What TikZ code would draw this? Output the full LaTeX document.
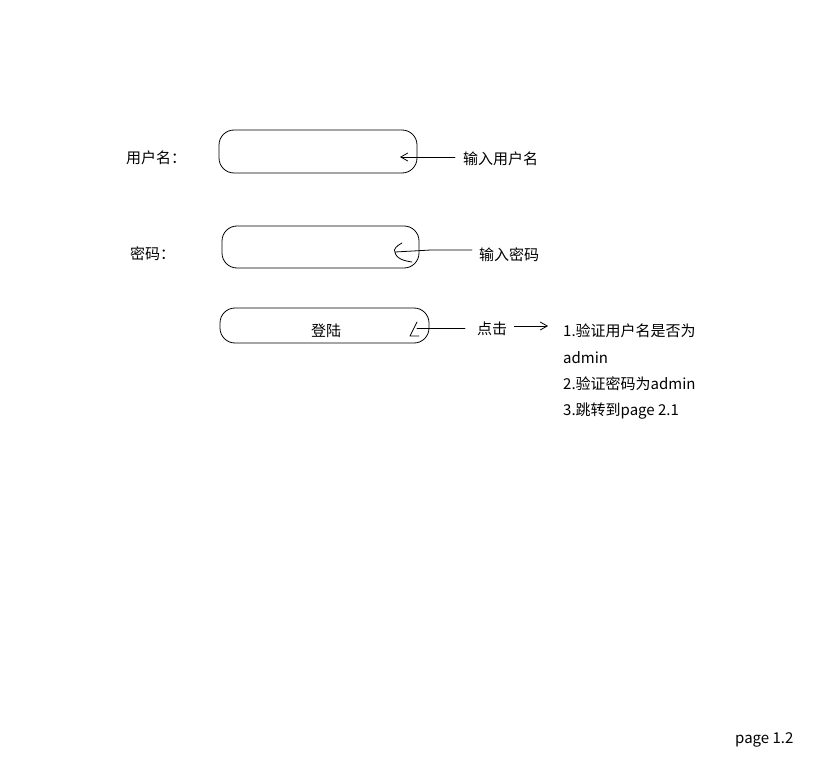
\documentclass[tikz,border=0pt]{standalone}
\usepackage{fontspec}
\setmainfont{Noto Sans CJK SC}
\usetikzlibrary{arrows.meta, positioning}

\begin{document}
\begin{tikzpicture}[
  x=1pt, y=-1pt,
  every node/.style={font=\fontsize{15}{26.3}\selectfont, text=black, inner sep=0pt},
  field/.style={draw, line width=0.8pt, rounded corners=15pt},
  txt/.style={anchor=west},
  sketch/.style={line width=0.8pt, line cap=round, line join=round},
  arr/.style={sketch, -{Straight Barb[length=7pt, width=8pt]}},
]
  \useasboundingbox (0,0) rectangle (831,773);

  % input fields and button
  \node[field, minimum width=198pt, minimum height=43pt] (userbox) at (318,151.5) {};
  \node[field, minimum width=197pt, minimum height=42pt] (pwdbox)  at (320.5,247) {};
  \node[field, minimum width=209pt, minimum height=35pt] (loginbtn) at (324.5,325.5) {};
  \node (logintxt) at (326,331) {登陆};

  \node[txt] (username) at (126,158) {用户名：};
  \node[txt] (password) at (130,254) {密码：};

  \node[txt] (hintuser) at (463,159) {输入用户名};
  \node[txt] (hintpwd)  at (479,255) {输入密码};
  \node[txt] (klick)    at (477,329) {点击};
  \node[anchor=north west, align=left] (steps) at (563,324)
    {1.验证用户名是否为\\admin\\2.验证密码为admin\\3.跳转到page 2.1};

  \node[txt] (pageno) at (735,740) {page 1.2};

  \coordinate (usertip) at (400,157);
  \coordinate (pwdtip)  at (395,252);
  \coordinate (btntip)  at (417,328);

  % connectors
  \draw[arr, shorten <=8pt] (hintuser.west |- usertip) -- (usertip);
  \draw[sketch, shorten <=7pt] (hintpwd.west |- 0,250) -- (431,250) -- (pwdtip);
  \draw[sketch] (402,243) .. controls (396,246) and (393,250) .. (pwdtip)
    .. controls (396,259) and (405,261) .. (412,262);
  \draw[sketch, shorten <=12pt] (klick.west |- btntip) -- (btntip);
  \draw[sketch] (417,322) -- (410,336) -- (419,336);
  \draw[arr, shorten <=7pt, shorten >=15pt] ([yshift=3pt]klick.east) -- ([yshift=3pt]klick.east -| steps.west);
\end{tikzpicture}
\end{document}
